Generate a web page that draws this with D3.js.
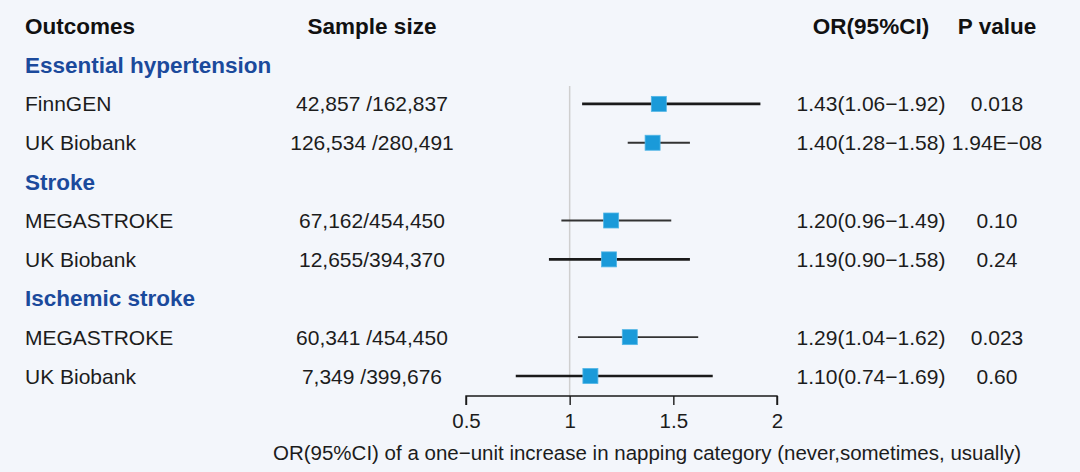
<!DOCTYPE html>
<html>
<head>
<meta charset="utf-8">
<script src="https://cdn.jsdelivr.net/npm/d3@7"></script>
<style>
  html, body { margin: 0; padding: 0; background: #f3f6fb; }
  svg { display: block; }
  text { font-family: "Liberation Sans", Arial, sans-serif; }
</style>
</head>
<body>
<svg id="chart" width="1080" height="472"></svg>
<script>
// ---- data ----
const columnHeaders = ["Outcomes", "Sample size", "OR(95%CI)", "P value"];
const groups = ["Essential hypertension", "Stroke", "Ischemic stroke"];
const studies = ["FinnGEN", "UK Biobank", "MEGASTROKE", "UK Biobank", "MEGASTROKE", "UK Biobank"];
const studyGroup = [0, 0, 1, 1, 2, 2];
const sampleSizes = ["42,857 /162,837", "126,534 /280,491", "67,162/454,450", "12,655/394,370", "60,341 /454,450", "7,349 /399,676"];
const orValues = [1.43, 1.40, 1.20, 1.19, 1.29, 1.10];
const ciLower = [1.06, 1.28, 0.96, 0.90, 1.04, 0.74];
const ciUpper = [1.92, 1.58, 1.49, 1.58, 1.62, 1.69];
const pValues = ["0.018", "1.94E\u221208", "0.10", "0.24", "0.023", "0.60"];
const xTicks = [0.5, 1, 1.5, 2];
const xTitle = "OR(95%CI) of a one\u2212unit increase in napping category (never,sometimes, usually)";

// ---- layout ----
const svg = d3.select("#chart");
const W = 1080, H = 472;
svg.append("rect").attr("width", W).attr("height", H).attr("fill", "#f3f6fb");

const rows = [];
groups.forEach((g, gi) => {
  rows.push({ type: "group", label: g });
  studies.forEach((s, i) => { if (studyGroup[i] === gi) rows.push({ type: "study", i }); });
});

const y = d3.scaleLinear().domain([0, rows.length - 1]).range([65, 376]);
const x = d3.scaleLinear().domain([0.5, 2]).range([466, 777]);

const colX = { outcome: 25, sample: 372, or: 871, p: 997 };
const f2 = d3.format(".2f");
const textCol = "#1c1c1c";
const regSize = 21, boldSize = 22.5;

// headers
const headerY = y(-1);
const hdr = svg.append("g").attr("font-weight", "bold").attr("font-size", boldSize).attr("fill", "#111");
hdr.append("text").attr("x", colX.outcome).attr("y", headerY).attr("dy", "0.36em").text(columnHeaders[0]);
hdr.append("text").attr("x", colX.sample).attr("y", headerY).attr("dy", "0.36em").attr("text-anchor", "middle").text(columnHeaders[1]);
hdr.append("text").attr("x", colX.or).attr("y", headerY).attr("dy", "0.36em").attr("text-anchor", "middle").text(columnHeaders[2]);
hdr.append("text").attr("x", colX.p).attr("y", headerY).attr("dy", "0.36em").attr("text-anchor", "middle").text(columnHeaders[3]);

// reference line at OR = 1
svg.append("line")
  .attr("x1", x(1)).attr("x2", x(1))
  .attr("y1", 86).attr("y2", 396)
  .attr("stroke", "#cfcfcf").attr("stroke-width", 1.5);

// rows
rows.forEach((r, ri) => {
  const yy = y(ri);
  if (r.type === "group") {
    svg.append("text").attr("x", colX.outcome).attr("y", yy).attr("dy", "0.36em")
      .attr("font-size", boldSize).attr("font-weight", "bold").attr("fill", "#1b4a9c")
      .text(r.label);
    return;
  }
  const i = r.i;
  const g = svg.append("g").attr("font-size", regSize).attr("fill", textCol);
  g.append("text").attr("x", colX.outcome).attr("y", yy).attr("dy", "0.36em").text(studies[i]);
  g.append("text").attr("x", colX.sample).attr("y", yy).attr("dy", "0.36em").attr("text-anchor", "middle").text(sampleSizes[i]);
  g.append("text").attr("x", colX.or).attr("y", yy).attr("dy", "0.36em").attr("text-anchor", "middle")
    .text(`${f2(orValues[i])}(${f2(ciLower[i])}\u2212${f2(ciUpper[i])})`);
  g.append("text").attr("x", colX.p).attr("y", yy).attr("dy", "0.36em").attr("text-anchor", "middle").text(pValues[i]);

  const wide = (ciUpper[i] - ciLower[i]) > 0.6;
  svg.append("line")
    .attr("x1", x(ciLower[i])).attr("x2", x(ciUpper[i]))
    .attr("y1", yy).attr("y2", yy)
    .attr("stroke", wide ? "#1a1a1a" : "#333333")
    .attr("stroke-width", wide ? 2.6 : 1.9);
  const s = 15;
  svg.append("rect")
    .attr("x", x(orValues[i]) - s / 2).attr("y", yy - s / 2)
    .attr("width", s).attr("height", s)
    .attr("fill", "#1a9ad9").attr("stroke", "#52b6e6").attr("stroke-width", 0.8);
});

// x axis
const axis = d3.axisBottom(x).tickValues(xTicks).tickSize(9).tickPadding(8).tickFormat(d3.format("~g"));
const ax = svg.append("g").attr("transform", "translate(0,396)").call(axis);
ax.select(".domain").attr("stroke", "#1a1a1a").attr("stroke-width", 1.4).attr("d", `M${x(0.5)},9V0H${x(2)}V9`);
ax.selectAll(".tick line").attr("stroke", "#1a1a1a").attr("stroke-width", 1.4);
ax.selectAll(".tick text").attr("font-size", 20.5).attr("fill", textCol)
  .attr("font-family", "'Liberation Sans', Arial, sans-serif");

svg.append("text").attr("x", 647).attr("y", 453).attr("dy", "0.36em")
  .attr("text-anchor", "middle").attr("font-size", 20.5).attr("fill", textCol)
  .text(xTitle);
</script>
</body>
</html>
